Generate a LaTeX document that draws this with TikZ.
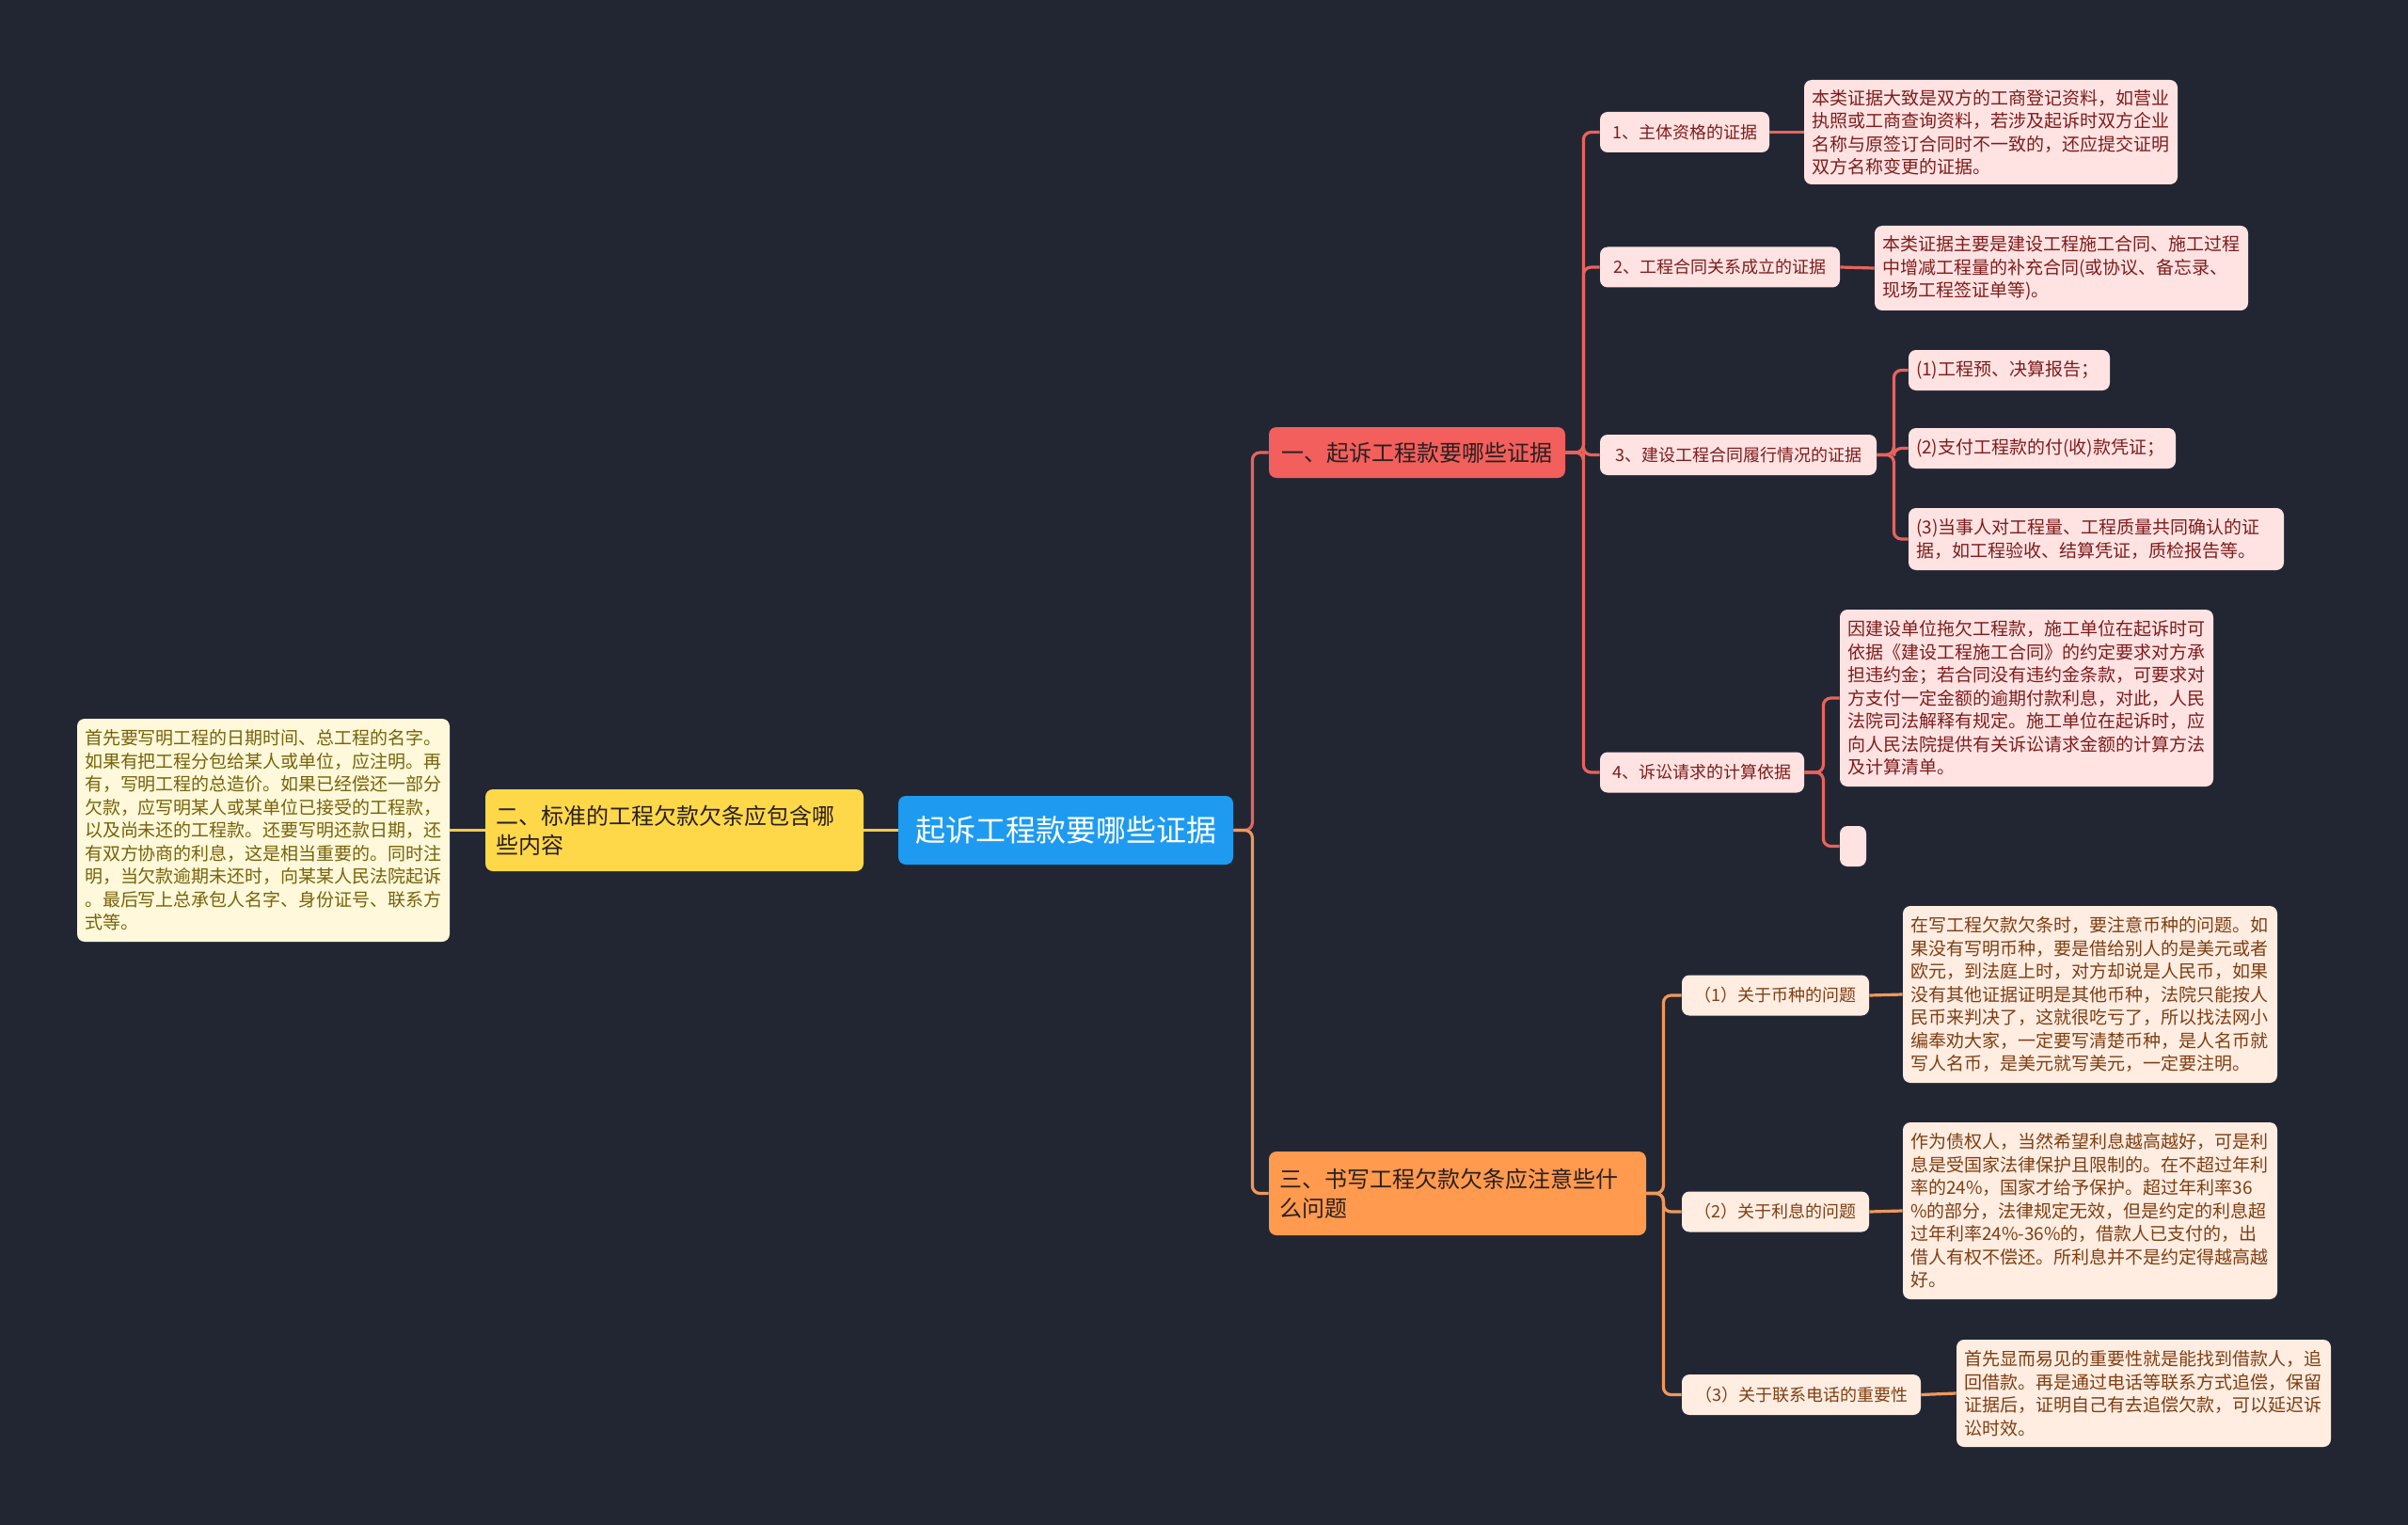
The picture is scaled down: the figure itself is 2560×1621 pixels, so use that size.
\documentclass[tikz,border=0pt]{standalone}
\usepackage{fontspec}
\setmainfont{Noto Sans CJK SC}
\definecolor{bgc}{HTML}{222632}
\definecolor{cred}{HTML}{F25F5C}
\definecolor{corange}{HTML}{FF9A4E}
\definecolor{cyellow}{HTML}{FFD84A}
\definecolor{cblue}{HTML}{1E9BF0}
\definecolor{cpink}{HTML}{FFE3E3}
\definecolor{cpeach}{HTML}{FFEDE2}
\definecolor{ccream}{HTML}{FFF8DA}
\definecolor{lred}{HTML}{E8635E}
\definecolor{lorange}{HTML}{F0985A}
\definecolor{lyellow}{HTML}{F2C94C}
\definecolor{tred}{HTML}{7E1C1C}
\definecolor{tbrown}{HTML}{7E3E12}
\definecolor{tolive}{HTML}{76630A}
\definecolor{tdark}{HTML}{2A2020}
\begin{document}
\begin{tikzpicture}[x=0.5pt,y=-0.5pt,
  box/.style={rounded corners=4pt,inner sep=0pt,anchor=center},
  rootbox/.style={box,fill=cblue,text=white,font=\fontsize{16}{20}\selectfont,align=center},
  mainbox/.style={box,text=tdark,font=\fontsize{12}{15.5}\selectfont},
  subP/.style={box,fill=cpink,text=tred,font=\fontsize{9}{12}\selectfont,align=center,minimum height=21.5pt},
  subO/.style={box,fill=cpeach,text=tbrown,font=\fontsize{9}{12}\selectfont,align=center,minimum height=21.5pt},
  leafP/.style={box,fill=cpink,text=tred,font=\fontsize{9.5}{12.25}\selectfont,align=left},
  leafO/.style={box,fill=cpeach,text=tbrown,font=\fontsize{9.5}{12.25}\selectfont,align=left},
  leafY/.style={box,fill=ccream,text=tolive,font=\fontsize{9.5}{12.25}\selectfont,align=left},
  conn/.style={line width=1.6pt,rounded corners=4pt},
  cr/.style={conn,draw=lred},
  co/.style={conn,draw=lorange},
  cy/.style={conn,draw=lyellow}]
\fill[bgc] (0,0) rectangle (2560,1621);
\useasboundingbox (0,0) rectangle (2560,1621);

% root
\node[rootbox,minimum width=178pt,minimum height=36.5pt] (root) at (1133,882.5) {起诉工程款要哪些证据};

% left branch
\node[mainbox,fill=cyellow,align=left,minimum width=201pt,minimum height=43.5pt,text width=190pt] (n2) at (717,882.5) {二、标准的工程欠款欠条应包含哪\\些内容};
\node[leafY,minimum width=198pt,minimum height=118.5pt,text width=190pt] (ly) at (280,882.5) {首先要写明工程的日期时间、总工程的名字。\\如果有把工程分包给某人或单位，应注明。再\\有，写明工程的总造价。如果已经偿还一部分\\欠款，应写明某人或某单位已接受的工程款，\\以及尚未还的工程款。还要写明还款日期，还\\有双方协商的利息，这是相当重要的。同时注\\明，当欠款逾期未还时，向某某人民法院起诉\\。最后写上总承包人名字、身份证号、联系方\\式等。};

% right main branches
\node[mainbox,fill=cred,align=center,minimum width=157.5pt,minimum height=27pt] (n1) at (1506.5,481) {一、起诉工程款要哪些证据};
\node[mainbox,fill=corange,align=left,minimum width=200.5pt,minimum height=44.5pt,text width=189pt] (n3) at (1549.5,1268.5) {三、书写工程欠款欠条应注意些什\\么问题};

% sub nodes of n1
\node[subP,minimum width=90pt] (s1) at (1791,140.5) {1、主体资格的证据};
\node[subP,minimum width=127.5pt] (s2) at (1828.5,284) {2、工程合同关系成立的证据};
\node[subP,minimum width=147pt] (s3) at (1848,483.5) {3、建设工程合同履行情况的证据};
\node[subP,minimum width=108.5pt] (s4) at (1809.5,821) {4、诉讼请求的计算依据};

\node[leafP,minimum width=198.5pt,minimum height=55.5pt,text width=190pt] (l1) at (2116.5,140.5) {本类证据大致是双方的工商登记资料，如营业\\执照或工商查询资料，若涉及起诉时双方企业\\名称与原签订合同时不一致的，还应提交证明\\双方名称变更的证据。};
\node[leafP,minimum width=198.5pt,minimum height=45pt,text width=190pt] (l2) at (2191.5,285) {本类证据主要是建设工程施工合同、施工过程\\中增减工程量的补充合同(或协议、备忘录、\\现场工程签证单等)。};
\node[leafP,minimum width=107pt,minimum height=21.5pt,text width=99pt] (c1) at (2136,393.5) {(1)工程预、决算报告；};
\node[leafP,minimum width=142pt,minimum height=21.5pt,text width=134pt] (c2) at (2171,476.5) {(2)支付工程款的付(收)款凭证；};
\node[leafP,minimum width=199.5pt,minimum height=33pt,text width=191pt] (c3) at (2228.5,573) {(3)当事人对工程量、工程质量共同确认的证\\据，如工程验收、结算凭证，质检报告等。};
\node[leafP,minimum width=198.5pt,minimum height=94pt,text width=190pt] (l4) at (2154.5,742) {因建设单位拖欠工程款，施工单位在起诉时可\\依据《建设工程施工合同》的约定要求对方承\\担违约金；若合同没有违约金条款，可要求对\\方支付一定金额的逾期付款利息，对此，人民\\法院司法解释有规定。施工单位在起诉时，应\\向人民法院提供有关诉讼请求金额的计算方法\\及计算清单。};
\node[box,fill=cpink,minimum width=14pt,minimum height=21.5pt] (e4) at (1970,899.5) {};

% sub nodes of n3
\node[subO,minimum width=99.5pt] (t1) at (1887.5,1058) {（1）关于币种的问题};
\node[subO,minimum width=99.5pt] (t2) at (1887.5,1288) {（2）关于利息的问题};
\node[subO,minimum width=127pt] (t3) at (1915,1482.5) {（3）关于联系电话的重要性};

\node[leafO,minimum width=199pt,minimum height=94pt,text width=191pt] (b1) at (2222,1057) {在写工程欠款欠条时，要注意币种的问题。如\\果没有写明币种，要是借给别人的是美元或者\\欧元，到法庭上时，对方却说是人民币，如果\\没有其他证据证明是其他币种，法院只能按人\\民币来判决了，这就很吃亏了，所以找法网小\\编奉劝大家，一定要写清楚币种，是人名币就\\写人名币，是美元就写美元，一定要注明。};
\node[leafO,minimum width=199pt,minimum height=94pt,text width=191pt] (b2) at (2222,1287) {作为债权人，当然希望利息越高越好，可是利\\息是受国家法律保护且限制的。在不超过年利\\率的24\%，国家才给予保护。超过年利率36\\\%的部分，法律规定无效，但是约定的利息超\\过年利率24\%-36\%的，借款人已支付的，出\\借人有权不偿还。所利息并不是约定得越高越\\好。};
\node[leafO,minimum width=199pt,minimum height=57pt,text width=191pt] (b3) at (2279,1481) {首先显而易见的重要性就是能找到借款人，追\\回借款。再是通过电话等联系方式追偿，保留\\证据后，证明自己有去追偿欠款，可以延迟诉\\讼时效。};

% connectors
\begin{scope}[on background layer/.style={}]
\end{scope}
\draw[cy] (n2.east) -- (root.west);
\draw[cy] (ly.east) -- (n2.west);
\draw[cr] (root.east) -- ++(20,0) |- (n1.west);
\draw[co] (root.east) -- ++(20,0) |- (n3.west);

\draw[cr] (n1.east) -- ++(19,0) |- (s1.west);
\draw[cr] (n1.east) -- ++(19,0) |- (s2.west);
\draw[cr] (n1.east) -- ++(19,0) |- (s3.west);
\draw[cr] (n1.east) -- ++(19,0) |- (s4.west);

\draw[cr] (s1.east) -- (l1.west);
\draw[cr] (s2.east) -- (l2.west);
\draw[cr] (s3.east) -- ++(18,0) |- (c1.west);
\draw[cr] (s3.east) -- ++(18,0) |- (c2.west);
\draw[cr] (s3.east) -- ++(18,0) |- (c3.west);
\draw[cr] (s4.east) -- ++(20,0) |- (l4.west);
\draw[cr] (s4.east) -- ++(20,0) |- (e4.west);

\draw[co] (n3.east) -- ++(18,0) |- (t1.west);
\draw[co] (n3.east) -- ++(18,0) |- (t2.west);
\draw[co] (n3.east) -- ++(18,0) |- (t3.west);
\draw[co] (t1.east) -- (b1.west);
\draw[co] (t2.east) -- (b2.west);
\draw[co] (t3.east) -- (b3.west);
\end{tikzpicture}
\end{document}
